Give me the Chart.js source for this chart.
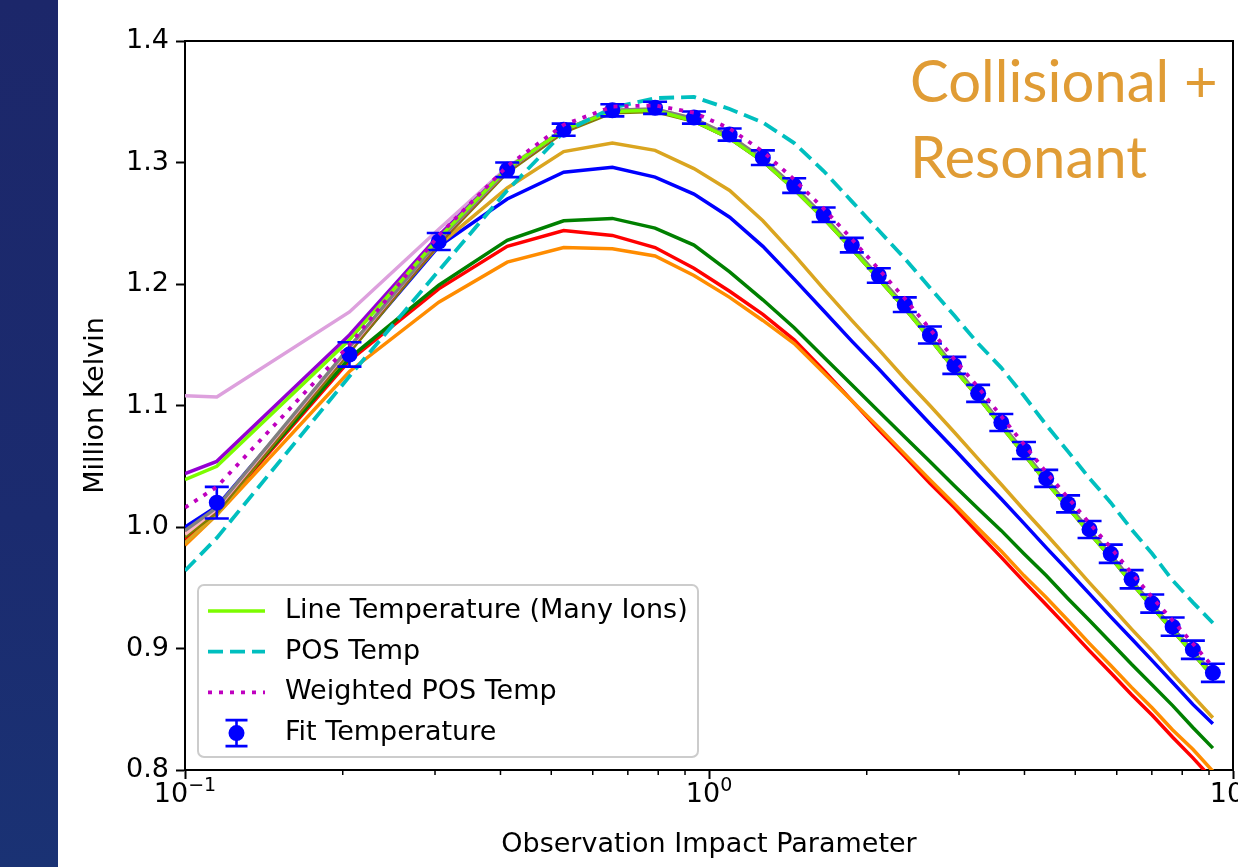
<!DOCTYPE html>
<html lang="en">
<head>
<meta charset="UTF-8">
<title>Line Temperature vs Observation Impact Parameter</title>
<script src="https://cdn.jsdelivr.net/npm/chart.js"></script>
<style>
    html, body {
        margin: 0;
        padding: 0;
        width: 1238px;
        height: 867px;
        overflow: hidden;
        background: #ffffff;
    }
    .strip {
        position: absolute;
        left: 0;
        top: 0;
        width: 58px;
        height: 867px;
        background: linear-gradient(180deg, #1c276a 0%, #1b2b6f 60%, #1a3274 100%);
    }
    .chart-box {
        position: absolute;
        left: 58px;
        top: 0;
        width: 1215px;
        height: 867px;
    }
    .note {
        position: absolute;
        left: 910px;
        color: #e09c35;
        font-family: Lato, "Open Sans", sans-serif;
        font-size: 58px;
        line-height: 1;
        white-space: nowrap;
    }
</style>
</head>
<body>

<div class="strip"></div>
<div class="chart-box">
    <canvas id="tempChart" width="1215" height="867"></canvas>
</div>
<div class="note" style="top:51px">Collisional +</div>
<div class="note" style="top:127px">Resonant</div>

<script>
// impact parameter of each sample (first entry = left edge of the axis)
const impact = [0.1, 0.115, 0.206, 0.305, 0.412, 0.528, 0.654, 0.789, 0.936, 1.095,
    1.267, 1.454, 1.655, 1.873, 2.109, 2.364, 2.640, 2.939, 3.263, 3.613,
    3.991, 4.401, 4.845, 5.324, 5.844, 6.405, 7.013, 7.671, 8.383, 9.154];

const fitTemp = [null, 1.020, 1.142, 1.235, 1.294, 1.327, 1.343, 1.345, 1.337, 1.323,
    1.304, 1.281, 1.257, 1.232, 1.207, 1.183, 1.158, 1.133, 1.110, 1.086,
    1.063, 1.040, 1.019, 0.998, 0.978, 0.957, 0.937, 0.918, 0.899, 0.880];
const fitErr = [null, 0.013, 0.010, 0.007, 0.006, 0.005, 0.005, 0.005, 0.005, 0.005,
    0.006, 0.006, 0.006, 0.006, 0.006, 0.006, 0.007, 0.007, 0.007, 0.007,
    0.007, 0.007, 0.007, 0.007, 0.0075, 0.0075, 0.0075, 0.0075, 0.0075, 0.0075];

const lineTemp = [1.039, 1.050, 1.154, 1.238, 1.295, 1.327, 1.342, 1.343, 1.334, 1.320,
    1.301, 1.278, 1.254, 1.229, 1.204, 1.180, 1.155, 1.130, 1.107, 1.083,
    1.060, 1.037, 1.016, 0.995, 0.975, 0.954, 0.934, 0.915, 0.896, 0.877];
const posTemp = [0.964, 0.991, 1.124, 1.211, 1.277, 1.325, 1.345, 1.353, 1.354, 1.344,
    1.333, 1.316, 1.293, 1.268, 1.244, 1.221, 1.197, 1.174, 1.151, 1.131,
    1.108, 1.084, 1.062, 1.040, 1.020, 0.998, 0.978, 0.956, 0.938, 0.921];
const weightedPosTemp = [1.016, 1.033, 1.150, 1.240, 1.297, 1.331, 1.346, 1.347, 1.341, 1.328,
    1.309, 1.286, 1.262, 1.237, 1.212, 1.188, 1.163, 1.138, 1.115, 1.091,
    1.068, 1.045, 1.024, 1.003, 0.983, 0.962, 0.942, 0.923, 0.904, 0.885];

// single-ion line temperatures
const goldenrodLine = [0.987, 1.010, 1.148, 1.232, 1.279, 1.309, 1.316, 1.310, 1.295, 1.277,
    1.252, 1.224, 1.196, 1.170, 1.146, 1.122, 1.100, 1.078, 1.056, 1.035,
    1.014, 0.994, 0.974, 0.954, 0.935, 0.916, 0.898, 0.879, 0.861, 0.843];
const blueLine = [1.000, 1.017, 1.145, 1.231, 1.270, 1.292, 1.296, 1.288, 1.274, 1.255,
    1.231, 1.204, 1.178, 1.153, 1.130, 1.107, 1.085, 1.064, 1.043, 1.023,
    1.003, 0.983, 0.964, 0.945, 0.926, 0.908, 0.890, 0.872, 0.854, 0.838];
const greenLine = [0.992, 1.013, 1.139, 1.199, 1.236, 1.252, 1.254, 1.246, 1.232, 1.210,
    1.187, 1.164, 1.140, 1.117, 1.095, 1.074, 1.054, 1.034, 1.015, 0.997,
    0.978, 0.960, 0.941, 0.923, 0.905, 0.887, 0.870, 0.853, 0.835, 0.818];
const redLine = [0.990, 1.012, 1.137, 1.196, 1.231, 1.244, 1.240, 1.230, 1.213, 1.194,
    1.175, 1.154, 1.129, 1.104, 1.080, 1.058, 1.036, 1.016, 0.995, 0.975,
    0.955, 0.936, 0.917, 0.898, 0.880, 0.862, 0.845, 0.827, 0.810, 0.792];
const orangeLine = [0.985, 1.010, 1.128, 1.185, 1.218, 1.230, 1.229, 1.223, 1.207, 1.189,
    1.170, 1.151, 1.127, 1.104, 1.082, 1.060, 1.039, 1.019, 0.999, 0.980,
    0.960, 0.942, 0.923, 0.904, 0.886, 0.868, 0.851, 0.833, 0.817, 0.799];
const plumLine = [1.108, 1.107, 1.177, 1.245, 1.296, 1.327, 1.342, 1.343, 1.335, 1.321,
    1.302, 1.279, 1.255, 1.230, 1.205, 1.181, 1.156, 1.131, 1.108, 1.084,
    1.061, 1.038, 1.017, 0.996, 0.976, 0.955, 0.935, 0.916, 0.897, 0.878];
const violetLine = [1.044, 1.054, 1.158, 1.240, 1.295, 1.327, 1.342, 1.343, 1.334, 1.320,
    1.301, 1.278, 1.254, 1.229, 1.204, 1.180, 1.155, 1.130, 1.107, 1.083,
    1.060, 1.037, 1.016, 0.995, 0.975, 0.954, 0.934, 0.915, 0.896, 0.877];
const grayLine = [0.997, 1.016, 1.148, 1.236, 1.294, 1.327, 1.343, 1.344, 1.336, 1.322,
    1.303, 1.280, 1.256, 1.231, 1.206, 1.182, 1.157, 1.132, 1.109, 1.085,
    1.062, 1.039, 1.018, 0.997, 0.977, 0.956, 0.936, 0.917, 0.898, 0.879];
const brownLine = [0.995, 1.014, 1.146, 1.234, 1.293, 1.326, 1.342, 1.343, 1.335, 1.321,
    1.302, 1.279, 1.255, 1.230, 1.205, 1.181, 1.156, 1.131, 1.108, 1.084,
    1.061, 1.038, 1.017, 0.996, 0.976, 0.955, 0.935, 0.916, 0.897, 0.878];
const oliveLine = [0.992, 1.012, 1.144, 1.233, 1.292, 1.325, 1.341, 1.342, 1.334, 1.320,
    1.301, 1.278, 1.254, 1.229, 1.204, 1.180, 1.155, 1.130, 1.107, 1.083,
    1.060, 1.037, 1.016, 0.995, 0.975, 0.954, 0.934, 0.915, 0.896, 0.877];
const pinkLine = [0.994, 1.015, 1.147, 1.236, 1.294, 1.327, 1.343, 1.344, 1.336, 1.322,
    1.303, 1.280, 1.256, 1.231, 1.206, 1.182, 1.157, 1.132, 1.109, 1.085,
    1.062, 1.039, 1.018, 0.997, 0.977, 0.956, 0.936, 0.917, 0.898, 0.879];

const xMajorTicks = [0.1, 1, 10];
const xMinorTicks = [0.2, 0.3, 0.4, 0.5, 0.6, 0.7, 0.8, 0.9, 2, 3, 4, 5, 6, 7, 8, 9];
const yTicks = [0.8, 0.9, 1.0, 1.1, 1.2, 1.3, 1.4];
const legendOrder = ['Line Temperature (Many Ions)', 'POS Temp', 'Weighted POS Temp', 'Fit Temperature'];

const FONT = '"DejaVu Sans"';
const FS = 27;
Chart.defaults.font.family = 'DejaVu Sans';

function pts(values) {
    return impact.map((x, i) => ({ x: x, y: values[i] })).filter(p => p.y !== null);
}

function ionLine(values, color) {
    return { label: '', data: pts(values), borderColor: color, borderWidth: 3.5, pointRadius: 0, tension: 0 };
}

// index 0 is drawn on top
const datasets = [
    { label: 'Weighted POS Temp', data: pts(weightedPosTemp), borderColor: '#bf00bf', borderWidth: 3.8,
      borderDash: [4, 7], pointRadius: 0, tension: 0 },
    { label: 'Fit Temperature', data: pts(fitTemp), showLine: false, pointRadius: 8,
      pointBackgroundColor: '#0000ff', pointBorderColor: '#0000ff', pointBorderWidth: 0, borderColor: '#0000ff' },
    { label: 'POS Temp', data: pts(posTemp), borderColor: '#00bfbf', borderWidth: 3.8,
      borderDash: [15, 7], pointRadius: 0, tension: 0 },
    { label: 'Line Temperature (Many Ions)', data: pts(lineTemp), borderColor: '#7cfc00', borderWidth: 3.5,
      pointRadius: 0, tension: 0 },
    ionLine(grayLine, '#808080'),
    ionLine(pinkLine, '#ffb6c1'),
    ionLine(brownLine, '#a0522d'),
    ionLine(oliveLine, '#808000'),
    ionLine(violetLine, '#9400d3'),
    ionLine(plumLine, '#dda0dd'),
    ionLine(goldenrodLine, '#daa520'),
    ionLine(blueLine, '#0000ff'),
    ionLine(greenLine, '#008000'),
    ionLine(orangeLine, '#ff8c00'),
    ionLine(redLine, '#ff0000')
];

const axesExtras = {
    id: 'axesExtras',
    beforeDatasetDraw(chart, args) {
        if (chart.data.datasets[args.index].label !== 'Fit Temperature') return;
        const { ctx, scales: { x, y } } = chart;
        ctx.save();
        ctx.strokeStyle = '#0000ff';
        ctx.lineWidth = 2.6;
        impact.forEach((v, i) => {
            if (fitTemp[i] === null) return;
            const px = x.getPixelForValue(v);
            const top = y.getPixelForValue(fitTemp[i] + fitErr[i]);
            const bot = y.getPixelForValue(fitTemp[i] - fitErr[i]);
            ctx.beginPath();
            ctx.moveTo(px, top); ctx.lineTo(px, bot);
            ctx.moveTo(px - 12, top); ctx.lineTo(px + 12, top);
            ctx.moveTo(px - 12, bot); ctx.lineTo(px + 12, bot);
            ctx.stroke();
        });
        ctx.restore();
    },
    afterDraw(chart) {
        const { ctx, chartArea: a, scales: { x } } = chart;
        ctx.save();

        // top and right spines
        ctx.strokeStyle = '#000';
        ctx.lineWidth = 2;
        ctx.beginPath();
        ctx.moveTo(a.left, a.top);
        ctx.lineTo(a.right, a.top);
        ctx.lineTo(a.right, a.bottom);
        ctx.stroke();

        // minor ticks on the log axis
        ctx.lineWidth = 1.5;
        xMinorTicks.forEach(v => {
            const px = x.getPixelForValue(v);
            ctx.beginPath();
            ctx.moveTo(px, a.bottom);
            ctx.lineTo(px, a.bottom + 5);
            ctx.stroke();
        });

        // 10^n labels
        ctx.fillStyle = '#000';
        ctx.textBaseline = 'alphabetic';
        ctx.textAlign = 'left';
        xMajorTicks.forEach(v => {
            const px = x.getPixelForValue(v);
            const exp = String(Math.round(Math.log10(v))).replace('-', '\u2212');
            ctx.font = FS + 'px ' + FONT;
            const wb = ctx.measureText('10').width;
            ctx.font = '19px ' + FONT;
            const we = ctx.measureText(exp).width;
            const x0 = px - (wb + we) / 2;
            ctx.font = FS + 'px ' + FONT;
            ctx.fillText('10', x0, a.bottom + 32);
            ctx.font = '19px ' + FONT;
            ctx.fillText(exp, x0 + wb, a.bottom + 21);
        });

        // legend box, lower left inside the axes
        const bw = 500, bh = 172;
        const bx = a.left + 13, by = a.bottom - 13 - bh;
        ctx.fillStyle = 'rgba(255,255,255,0.8)';
        ctx.strokeStyle = '#cccccc';
        ctx.lineWidth = 2;
        ctx.beginPath();
        if (ctx.roundRect) ctx.roundRect(bx, by, bw, bh, 6); else ctx.rect(bx, by, bw, bh);
        ctx.fill();
        ctx.stroke();

        legendOrder.forEach((name, i) => {
            const ds = chart.data.datasets.find(d => d.label === name);
            const cy = by + 26 + i * 40.7;
            const x0 = bx + 10, x1 = bx + 67;
            if (ds.showLine === false) {
                const cx = (x0 + x1) / 2;
                ctx.strokeStyle = '#0000ff';
                ctx.lineWidth = 2.6;
                ctx.setLineDash([]);
                ctx.beginPath();
                ctx.moveTo(cx, cy - 13); ctx.lineTo(cx, cy + 13);
                ctx.moveTo(cx - 11, cy - 13); ctx.lineTo(cx + 11, cy - 13);
                ctx.moveTo(cx - 11, cy + 13); ctx.lineTo(cx + 11, cy + 13);
                ctx.stroke();
                ctx.fillStyle = '#0000ff';
                ctx.beginPath();
                ctx.arc(cx, cy, 8, 0, Math.PI * 2);
                ctx.fill();
            } else {
                ctx.strokeStyle = ds.borderColor;
                ctx.lineWidth = ds.borderWidth;
                ctx.setLineDash(ds.borderDash || []);
                ctx.beginPath();
                ctx.moveTo(x0, cy);
                ctx.lineTo(x1, cy);
                ctx.stroke();
                ctx.setLineDash([]);
            }
            ctx.fillStyle = '#000';
            ctx.font = FS + 'px ' + FONT;
            ctx.textBaseline = 'middle';
            ctx.fillText(name, bx + 87, cy);
        });

        ctx.restore();
    }
};

const chart = new Chart(document.getElementById('tempChart'), {
    type: 'line',
    data: { datasets: datasets },
    options: {
        responsive: false,
        animation: false,
        devicePixelRatio: 1,
        layout: { padding: { top: 41, right: 40, bottom: 0, left: 0 } },
        plugins: {
            legend: { display: false },
            tooltip: { enabled: false }
        },
        scales: {
            x: {
                type: 'logarithmic',
                position: 'bottom',
                min: 0.1,
                max: 10,
                afterBuildTicks: s => { s.ticks = xMajorTicks.map(v => ({ value: v, major: true })); },
                afterFit: s => { s.height = 97; },
                ticks: { display: false },
                grid: { drawOnChartArea: false, drawTicks: true, tickLength: 9, tickWidth: 2, tickColor: '#000' },
                border: { display: true, color: '#000', width: 2 },
                title: {
                    display: true,
                    text: 'Observation Impact Parameter',
                    color: '#000',
                    font: { family: 'DejaVu Sans', size: FS },
                    padding: { top: 0, bottom: 6 }
                }
            },
            y: {
                type: 'linear',
                min: 0.8,
                max: 1.4,
                afterBuildTicks: s => { s.ticks = yTicks.map(v => ({ value: v })); },
                afterFit: s => { s.width = 127; },
                ticks: {
                    callback: v => Number(v).toFixed(1),
                    color: '#000',
                    font: { family: 'DejaVu Sans', size: FS },
                    padding: 7
                },
                grid: { drawOnChartArea: false, drawTicks: true, tickLength: 9, tickWidth: 2, tickColor: '#000' },
                border: { display: true, color: '#000', width: 2 },
                title: {
                    display: true,
                    text: 'Million Kelvin',
                    color: '#000',
                    font: { family: 'DejaVu Sans', size: FS },
                    padding: { top: 22, bottom: 0 }
                }
            }
        }
    },
    plugins: [axesExtras]
});
</script>

</body>
</html>
